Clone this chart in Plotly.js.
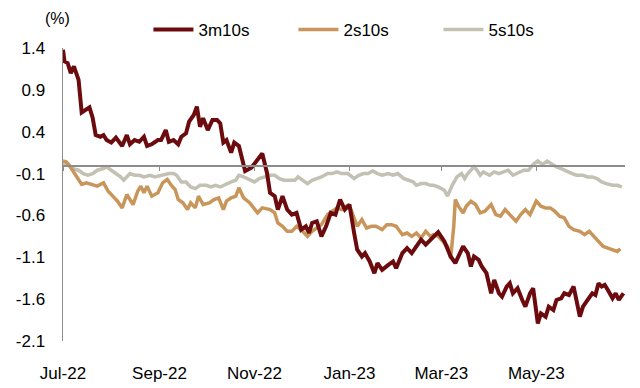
<!DOCTYPE html>
<html>
<head>
<meta charset="utf-8">
<script src="https://cdn.plot.ly/plotly-3.0.1.min.js"></script>
<style>html,body{margin:0;padding:0;background:#fff;}#chart{width:640px;height:388px;}</style>
</head>
<body>
<div id="chart"></div>
<script>
var dates3m = ['2022-07-01','2022-07-02','2022-07-04','2022-07-06','2022-07-08','2022-07-11','2022-07-13','2022-07-15','2022-07-18','2022-07-20','2022-07-22','2022-07-25','2022-07-27','2022-07-29','2022-08-01','2022-08-04','2022-08-06','2022-08-08','2022-08-11','2022-08-13','2022-08-16','2022-08-19','2022-08-22','2022-08-24','2022-08-27','2022-08-31','2022-09-02','2022-09-05','2022-09-07','2022-09-10','2022-09-13','2022-09-15','2022-09-18','2022-09-20','2022-09-23','2022-09-25','2022-09-27','2022-09-29','2022-10-02','2022-10-05','2022-10-08','2022-10-10','2022-10-12','2022-10-14','2022-10-17','2022-10-19','2022-10-22','2022-10-24','2022-10-26','2022-10-30','2022-11-03','2022-11-06','2022-11-09','2022-11-11','2022-11-14','2022-11-16','2022-11-19','2022-11-22','2022-11-25','2022-11-28','2022-12-01','2022-12-04','2022-12-06','2022-12-08','2022-12-11','2022-12-14','2022-12-17','2022-12-20','2022-12-23','2022-12-26','2022-12-29','2023-01-01','2023-01-04','2023-01-06','2023-01-09','2023-01-11','2023-01-14','2023-01-17','2023-01-19','2023-01-22','2023-01-26','2023-01-29','2023-01-31','2023-02-04','2023-02-07','2023-02-10','2023-02-13','2023-02-16','2023-02-19','2023-02-21','2023-02-24','2023-02-27','2023-03-03','2023-03-05','2023-03-07','2023-03-10','2023-03-12','2023-03-15','2023-03-18','2023-03-20','2023-03-22','2023-03-25','2023-03-27','2023-03-30','2023-04-02','2023-04-04','2023-04-07','2023-04-09','2023-04-12','2023-04-14','2023-04-16','2023-04-19','2023-04-22','2023-04-24','2023-04-27','2023-04-29','2023-05-02','2023-05-04','2023-05-07','2023-05-09','2023-05-12','2023-05-14','2023-05-17','2023-05-19','2023-05-22','2023-05-25','2023-05-29','2023-05-31','2023-06-03','2023-06-06','2023-06-08','2023-06-10','2023-06-12','2023-06-14','2023-06-16','2023-06-19','2023-06-21','2023-06-23','2023-06-26'];
var vals3m = [1.38,1.24,1.22,1.10,1.18,1.02,0.63,0.65,0.69,0.57,0.36,0.34,0.36,0.30,0.27,0.33,0.27,0.23,0.36,0.25,0.30,0.28,0.34,0.23,0.25,0.30,0.30,0.42,0.28,0.30,0.25,0.34,0.38,0.52,0.60,0.70,0.46,0.56,0.42,0.54,0.54,0.50,0.27,0.30,0.15,0.27,0.23,0.07,-0.07,-0.03,0.06,0.14,-0.09,-0.33,-0.37,-0.53,-0.37,-0.53,-0.59,-0.57,-0.77,-0.73,-0.81,-0.69,-0.67,-0.85,-0.73,-0.57,-0.59,-0.41,-0.53,-0.47,-0.81,-1.01,-1.09,-1.05,-1.15,-1.29,-1.17,-1.25,-1.19,-1.15,-1.23,-1.05,-0.99,-1.05,-0.97,-0.89,-0.95,-0.91,-0.85,-0.80,-0.91,-0.99,-1.09,-1.17,-1.09,-0.97,-1.05,-1.21,-1.09,-1.13,-1.21,-1.29,-1.53,-1.37,-1.53,-1.57,-1.45,-1.41,-1.53,-1.47,-1.61,-1.69,-1.53,-1.47,-1.89,-1.77,-1.81,-1.69,-1.73,-1.61,-1.59,-1.53,-1.55,-1.45,-1.81,-1.69,-1.61,-1.53,-1.55,-1.41,-1.45,-1.43,-1.49,-1.59,-1.53,-1.61,-1.53];

var dates2s = ['2022-07-01','2022-07-03','2022-07-05','2022-07-08','2022-07-11','2022-07-13','2022-07-16','2022-07-20','2022-07-23','2022-07-27','2022-07-30','2022-08-02','2022-08-05','2022-08-08','2022-08-11','2022-08-13','2022-08-15','2022-08-18','2022-08-20','2022-08-22','2022-08-24','2022-08-27','2022-08-31','2022-09-03','2022-09-06','2022-09-09','2022-09-11','2022-09-13','2022-09-16','2022-09-19','2022-09-21','2022-09-24','2022-09-26','2022-09-29','2022-10-03','2022-10-06','2022-10-09','2022-10-12','2022-10-14','2022-10-17','2022-10-20','2022-10-22','2022-10-25','2022-10-29','2022-11-03','2022-11-06','2022-11-11','2022-11-14','2022-11-16','2022-11-19','2022-11-22','2022-11-25','2022-11-28','2022-12-02','2022-12-05','2022-12-08','2022-12-11','2022-12-14','2022-12-18','2022-12-21','2022-12-24','2022-12-27','2022-12-30','2023-01-02','2023-01-06','2023-01-09','2023-01-12','2023-01-15','2023-01-18','2023-01-22','2023-01-25','2023-01-28','2023-01-31','2023-02-04','2023-02-07','2023-02-10','2023-02-13','2023-02-16','2023-02-19','2023-02-22','2023-02-24','2023-02-27','2023-03-03','2023-03-05','2023-03-07','2023-03-09','2023-03-10','2023-03-12','2023-03-15','2023-03-17','2023-03-20','2023-03-23','2023-03-26','2023-03-29','2023-04-02','2023-04-05','2023-04-08','2023-04-11','2023-04-14','2023-04-18','2023-04-21','2023-04-24','2023-04-27','2023-05-01','2023-05-04','2023-05-07','2023-05-10','2023-05-13','2023-05-16','2023-05-19','2023-05-22','2023-05-25','2023-05-29','2023-06-01','2023-06-04','2023-06-07','2023-06-10','2023-06-13','2023-06-16','2023-06-20','2023-06-22','2023-06-24'];
var vals2s = [0.05,0.04,0.00,-0.08,-0.17,-0.23,-0.21,-0.23,-0.25,-0.21,-0.31,-0.37,-0.43,-0.51,-0.35,-0.41,-0.47,-0.31,-0.25,-0.33,-0.25,-0.37,-0.33,-0.21,-0.17,-0.25,-0.29,-0.41,-0.45,-0.53,-0.45,-0.51,-0.37,-0.47,-0.45,-0.41,-0.39,-0.53,-0.43,-0.39,-0.37,-0.27,-0.39,-0.45,-0.57,-0.51,-0.53,-0.57,-0.69,-0.73,-0.79,-0.79,-0.73,-0.79,-0.85,-0.79,-0.75,-0.71,-0.59,-0.55,-0.51,-0.53,-0.49,-0.53,-0.73,-0.65,-0.75,-0.73,-0.73,-0.77,-0.71,-0.71,-0.73,-0.83,-0.81,-0.85,-0.81,-0.87,-0.79,-0.85,-0.83,-0.85,-0.93,-0.97,-1.11,-0.73,-0.41,-0.49,-0.57,-0.49,-0.43,-0.47,-0.57,-0.55,-0.47,-0.59,-0.61,-0.53,-0.59,-0.67,-0.59,-0.53,-0.59,-0.43,-0.49,-0.51,-0.51,-0.55,-0.61,-0.63,-0.73,-0.77,-0.79,-0.83,-0.79,-0.85,-0.91,-0.97,-0.99,-1.01,-1.03,-1.00];

var dates5s = ['2022-07-01','2022-07-04','2022-07-07','2022-07-11','2022-07-14','2022-07-17','2022-07-20','2022-07-23','2022-07-27','2022-07-29','2022-08-01','2022-08-04','2022-08-07','2022-08-09','2022-08-13','2022-08-16','2022-08-19','2022-08-22','2022-08-26','2022-08-29','2022-09-02','2022-09-05','2022-09-07','2022-09-10','2022-09-12','2022-09-15','2022-09-18','2022-09-21','2022-09-24','2022-09-27','2022-10-01','2022-10-04','2022-10-07','2022-10-10','2022-10-14','2022-10-17','2022-10-20','2022-10-22','2022-10-25','2022-10-29','2022-11-01','2022-11-04','2022-11-08','2022-11-11','2022-11-14','2022-11-17','2022-11-20','2022-11-24','2022-11-27','2022-11-29','2022-12-02','2022-12-05','2022-12-08','2022-12-11','2022-12-14','2022-12-18','2022-12-21','2022-12-24','2022-12-27','2022-12-31','2023-01-04','2023-01-07','2023-01-10','2023-01-13','2023-01-16','2023-01-19','2023-01-22','2023-01-26','2023-01-29','2023-02-01','2023-02-05','2023-02-08','2023-02-11','2023-02-13','2023-02-16','2023-02-19','2023-02-22','2023-02-24','2023-02-27','2023-03-03','2023-03-05','2023-03-08','2023-03-11','2023-03-14','2023-03-16','2023-03-18','2023-03-20','2023-03-22','2023-03-24','2023-03-26','2023-03-28','2023-04-01','2023-04-04','2023-04-07','2023-04-10','2023-04-13','2023-04-16','2023-04-20','2023-04-23','2023-04-26','2023-04-29','2023-05-02','2023-05-05','2023-05-08','2023-05-11','2023-05-14','2023-05-17','2023-05-21','2023-05-24','2023-05-27','2023-05-31','2023-06-03','2023-06-06','2023-06-09','2023-06-12','2023-06-15','2023-06-19','2023-06-22','2023-06-25'];
var vals5s = [0.01,0.01,-0.04,-0.06,-0.10,-0.12,-0.10,-0.06,-0.04,-0.02,-0.06,-0.10,-0.14,-0.18,-0.10,-0.12,-0.12,-0.14,-0.12,-0.14,-0.12,-0.10,-0.10,-0.10,-0.12,-0.20,-0.20,-0.26,-0.28,-0.24,-0.24,-0.26,-0.24,-0.26,-0.22,-0.20,-0.18,-0.12,-0.14,-0.18,-0.20,-0.16,-0.14,-0.12,-0.12,-0.16,-0.18,-0.18,-0.18,-0.14,-0.18,-0.22,-0.18,-0.16,-0.14,-0.10,-0.10,-0.08,-0.10,-0.10,-0.16,-0.12,-0.10,-0.10,-0.07,-0.10,-0.12,-0.10,-0.12,-0.10,-0.16,-0.18,-0.20,-0.24,-0.22,-0.22,-0.24,-0.24,-0.26,-0.30,-0.37,-0.24,-0.14,-0.10,-0.16,-0.10,-0.06,-0.02,-0.06,-0.12,-0.08,-0.12,-0.08,-0.10,-0.08,-0.06,-0.12,-0.08,-0.06,-0.06,0.01,0.05,0.01,0.05,0.01,-0.02,-0.04,-0.08,-0.10,-0.12,-0.12,-0.14,-0.14,-0.16,-0.20,-0.22,-0.24,-0.24,-0.26];

var seriesNames = ['3m10s','2s10s','5s10s'];
var seriesColors = ['#6C0B0E','#C8955A','#C2C1B3'];
var yTickVals = [-2.1,-1.6,-1.1,-0.6,-0.1,0.4,0.9,1.4];
var yTickText = ['-2.1','-1.6','-1.1','-0.6','-0.1','0.4','0.9','1.4'];
var xRange = ['2022-07-01','2023-06-27'];

var font = 'Liberation Sans, Arial, sans-serif';
var allDates = [dates3m, dates2s, dates5s];
var allVals = [vals3m, vals2s, vals5s];
var widths = [4, 3.5, 3.5];
var traces = [];
for (var i = 0; i < 3; i++) {
  traces.push({
    type: 'scatter', mode: 'lines', name: seriesNames[i],
    x: allDates[i], y: allVals[i],
    line: {color: seriesColors[i], width: widths[i]},
    xaxis: 'x', yaxis: 'y'
  });
}
// helper trace so the zero-crossing axis is drawn
traces.push({type: 'scatter', mode: 'lines', x: [], y: [], xaxis: 'x2', yaxis: 'y', showlegend: false, hoverinfo: 'skip'});
// draw order: 5s10s and 2s10s below 3m10s
traces = [traces[2], traces[1], traces[0], traces[3]];

var layout = {
  width: 640, height: 388,
  margin: {l: 63, r: 15, t: 48, b: 47, autoexpand: false},
  paper_bgcolor: '#fff', plot_bgcolor: '#fff',
  font: {family: font, size: 17, color: '#000'},
  showlegend: true,
  legend: {orientation: 'h', x: 0.152, xanchor: 'left', y: 1.0, yanchor: 'bottom',
           font: {family: font, size: 17, color: '#000'}, traceorder: 'reversed',
           entrywidth: 90, entrywidthmode: 'pixels', itemwidth: 40,
           bgcolor: 'rgba(0,0,0,0)'},
  xaxis: {type: 'date', range: xRange, tick0: '2022-07-01', dtick: 'M2', tickformat: '%b-%y',
          showgrid: false, zeroline: false, showline: false, ticks: '', ticklabelstandoff: 20,
          tickfont: {family: font, size: 17, color: '#000'}},
  xaxis2: {type: 'date', overlaying: 'x', matches: 'x', anchor: 'free', position: 0.6,
           tick0: '2022-07-01', dtick: 'M2', showticklabels: false, showgrid: false, zeroline: false,
           showline: true, linecolor: '#8C8C8C', linewidth: 1.5, ticks: 'outside', ticklen: 4,
           tickcolor: '#8C8C8C', tickwidth: 1.5},
  yaxis: {range: [-2.1, 1.4], tickvals: yTickVals, ticktext: yTickText, showgrid: false,
          zeroline: false, showline: true, linecolor: '#8C8C8C', linewidth: 1.5, ticks: '',
          ticklabelstandoff: 13, tickfont: {family: font, size: 17, color: '#000'}},
  annotations: [{text: '(%)', xref: 'paper', yref: 'paper', x: -0.01, y: 1.0, yshift: 30,
                 xanchor: 'center', yanchor: 'middle', showarrow: false,
                 font: {family: font, size: 16, color: '#000'}}]
};
Plotly.newPlot('chart', traces, layout, {displayModeBar: false, staticPlot: true});
</script>
</body>
</html>
